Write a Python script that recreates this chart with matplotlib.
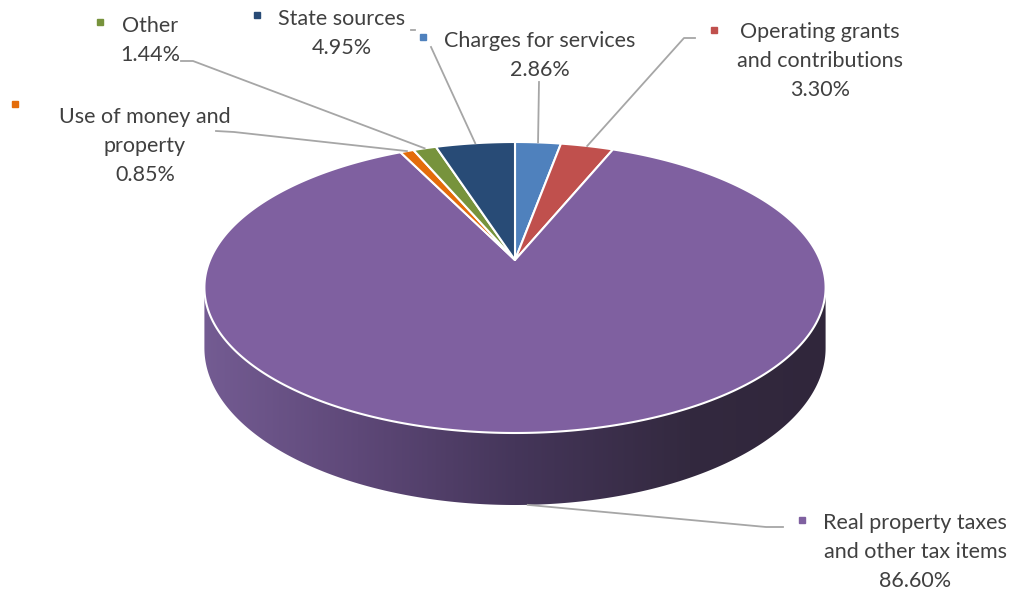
import numpy as np
import matplotlib
matplotlib.use('Agg')
import matplotlib.pyplot as plt
from matplotlib.patches import Polygon
from matplotlib.colors import LinearSegmentedColormap


# Data (clockwise from 12 o'clock, as Excel draws it)
categories = ['Charges for services',
              'Operating grants\nand contributions',
              'Real property taxes\nand other tax items',
              'Use of money and\nproperty',
              'Other',
              'State sources']
shares = [2.86, 3.30, 86.60, 0.85, 1.44, 4.95]
colors = ['#4F81BD', '#C0504D', '#7F60A0', '#E46C0A', '#77933C', '#284B76']

# Pie geometry (pixels) - simple perspective projection of a disk
CX, CY = 515, 260
A, B, K = 305, 140.3, 0.189
H0 = 58.4


def proj(theta, r=1.0, depth=0.0):
    t = np.radians(theta)
    u = r * np.sin(t)
    v = r * np.cos(t)
    w = 1 + K * v
    return CX + A * u / w, CY - B * v / w + H0 * depth / w


fig = plt.figure(figsize=(10.26, 5.93), dpi=100)
ax = fig.add_axes([0, 0, 1, 1])
ax.set_xlim(0, 1026)
ax.set_ylim(593, 0)
ax.axis('off')

# Side of the disk (only the front part shows)
t1, t2 = 100.9, 259.1
ts = np.linspace(t1, t2, 300)
tx, ty = proj(ts)
bx, by = proj(ts, depth=1.0)
side_pts = np.column_stack([np.concatenate([tx, bx[::-1]]),
                            np.concatenate([ty, by[::-1]])])
side = Polygon(side_pts, closed=True, facecolor='none', edgecolor='none')
ax.add_patch(side)
side_cmap = LinearSegmentedColormap.from_list(
    'side', [(0.0, '#745c93'), (0.25, '#5e4878'), (0.5, '#45365a'),
             (0.78, '#33293f'), (1.0, '#30263b')])
grad = np.linspace(0, 1, 400).reshape(1, -1)
im = ax.imshow(grad, cmap=side_cmap, aspect='auto',
               extent=[200, 830, 520, 270], zorder=1)
im.set_clip_path(side)

# Top face wedges
cum = np.concatenate([[0], np.cumsum(shares)])
angles = cum / cum[-1] * 360
for i, c in enumerate(colors):
    th = np.linspace(angles[i], angles[i + 1], max(int(angles[i + 1] - angles[i]) * 2, 4))
    x, y = proj(th)
    pts = np.column_stack([np.concatenate([[CX], x]), np.concatenate([[CY], y])])
    ax.add_patch(Polygon(pts, closed=True, facecolor=c, edgecolor='white',
                         linewidth=1.5, joinstyle='round', zorder=2))

# Label layout: text center x, first baseline, marker position
plt.rcParams['font.family'] = ['Lato', 'DejaVu Sans']
txt_col = '#404040'
line_col = '#A6A6A6'
fs = 15.5
layout = [
    (540, 47, 423, 37),
    (820, 38, 714, 30),
    (915, 529, 802, 520),
    (145, 123, 15, 104),
    (150, 32, 100, 22),
    (342, 25, 257, 15),
]
for i, (lx, ly, mx, my) in enumerate(layout):
    lines = categories[i].split('\n') + ['%.2f%%' % shares[i]]
    for j, s in enumerate(lines):
        ax.text(lx, ly + 29 * j, s, ha='center', va='baseline',
                fontsize=fs, color=txt_col, zorder=5)
    ax.plot(mx, my, marker='s', markersize=5, color=colors[i],
            linestyle='none', zorder=5)

# Leader lines
mid = (angles[:-1] + angles[1:]) / 2
anchors = [proj(m) for m in mid]
anchors[2] = proj(mid[2], depth=1.0)
leaders = [
    [(539, 82)],
    [(695, 38), (684, 38)],
    [(783, 527), (766, 527)],
    [(216, 131), (234, 132)],
    [(181, 61), (193, 61)],
    [(431, 47)],
]
for i, pts in enumerate(leaders):
    xs = [p[0] for p in pts] + [anchors[i][0]]
    ys = [p[1] for p in pts] + [anchors[i][1]]
    ax.plot(xs, ys, color=line_col, linewidth=1.3, zorder=4)
ax.plot([411, 415], [30, 30], color=line_col, linewidth=1.3, zorder=4)

fig.savefig('out.png', dpi=100)
